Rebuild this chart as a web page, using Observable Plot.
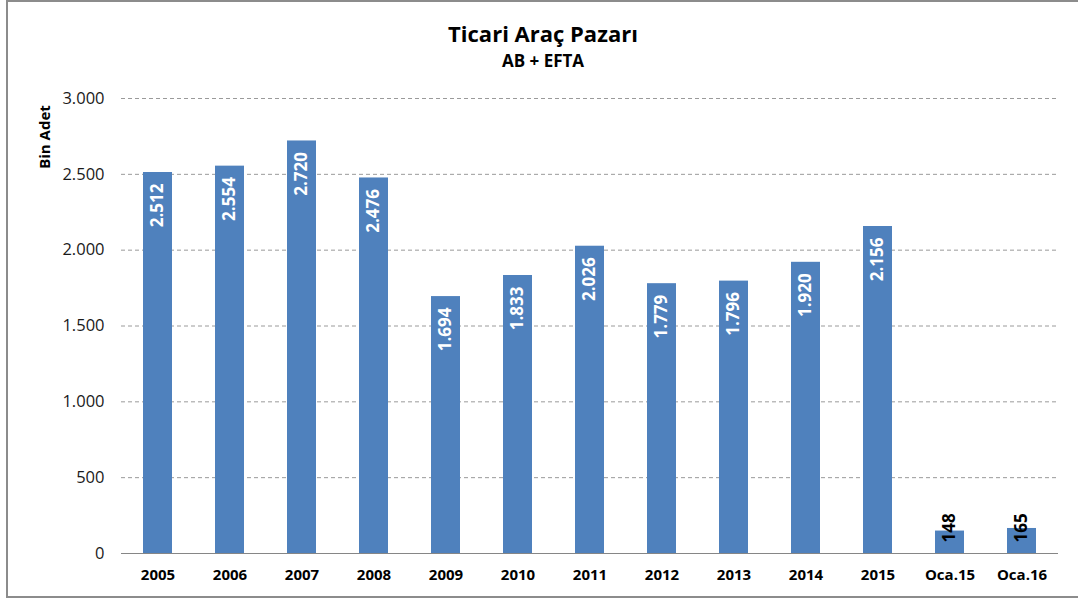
<!DOCTYPE html>
<html>
<head>
<meta charset="utf-8">
<script src="https://cdn.jsdelivr.net/npm/d3@7"></script>
<script src="https://cdn.jsdelivr.net/npm/@observablehq/plot@0.6"></script>
<style>
  html, body { margin: 0; padding: 0; background: #fff; }
  #wrap { position: relative; width: 1078px; height: 598px; overflow: hidden; font-family: "Open Sans", sans-serif; }
  #frame { position: absolute; left: 6px; top: 0; width: 1200px; height: 598px; border-top: 2px solid #8c8c8c; border-left: 2px solid #8c8c8c; border-bottom: 2px solid #8c8c8c; box-sizing: border-box; }
  #title { position: absolute; left: 0; width: 1086px; top: 18px; text-align: center; font-weight: bold; font-size: 22px; color: #000; }
  #subtitle { position: absolute; left: 0; width: 1086px; top: 49px; text-align: center; font-weight: bold; font-size: 17px; color: #000; }
  #ylabel { position: absolute; left: 44px; top: 137px; transform: translate(-50%, -50%) rotate(-90deg); font-weight: bold; font-size: 15px; white-space: nowrap; color: #000; }
  #chart { position: absolute; left: 0; top: 0; }
</style>
</head>
<body>
<div id="wrap">
  <div id="frame"></div>
  <div id="chart"></div>
  <div id="title">Ticari Araç Pazarı</div>
  <div id="subtitle">AB + EFTA</div>
  <div id="ylabel">Bin Adet</div>
</div>
<script>
const categories = ["2005","2006","2007","2008","2009","2010","2011","2012","2013","2014","2015","Oca.15","Oca.16"];
const values = [2512, 2554, 2720, 2476, 1694, 1833, 2026, 1779, 1796, 1920, 2156, 148, 165];
const yTicks = [0, 500, 1000, 1500, 2000, 2500, 3000];

const data = categories.map((c, i) => ({category: c, value: values[i]}));
const trLocale = d3.formatLocale({decimal: ",", thousands: ".", grouping: [3], currency: ["", ""]});
const fmt = trLocale.format(",d");
const inside = data.filter(d => d.value >= 500);
const outside = data.filter(d => d.value < 500);

const chart = Plot.plot({
  width: 1078,
  height: 598,
  marginLeft: 121,
  marginRight: 20,
  marginTop: 98,
  marginBottom: 45,
  style: {fontFamily: "'Open Sans', sans-serif", background: "transparent"},
  x: {domain: categories, paddingInner: 0.6, paddingOuter: 0.3, label: null},
  y: {domain: [0, 3000], label: null},
  marks: [
    Plot.ruleY(yTicks.filter(t => t > 0), {stroke: "#9a9a9a", strokeDasharray: "4,3", strokeWidth: 1}),
    Plot.barY(data, {x: "category", y: "value", fill: "#4F81BD"}),
    Plot.ruleY([0], {stroke: "#868686", strokeWidth: 1}),
    Plot.ruleX([0], {x: () => 0, frameAnchor: "left", stroke: "#868686"}),
    Plot.axisY({ticks: yTicks, tickFormat: fmt, tickSize: 0, tickPadding: 17, fontSize: 16.5, fill: "#1a1a1a", label: null}),
    Plot.axisX({tickSize: 0, tickPadding: 16, fontSize: 15, fontWeight: "bold", fill: "#000", label: null}),
    Plot.text(inside, {x: "category", y: "value", text: d => fmt(d.value), rotate: -90, textAnchor: "end", dy: 11, fill: "white", fontWeight: "bold", fontSize: 17}),
    Plot.text(outside, {x: "category", y: () => 0, text: d => fmt(d.value), rotate: -90, textAnchor: "start", dy: -11, fill: "black", fontWeight: "bold", fontSize: 17})
  ]
});
document.getElementById("chart").appendChild(chart);
</script>
</body>
</html>
